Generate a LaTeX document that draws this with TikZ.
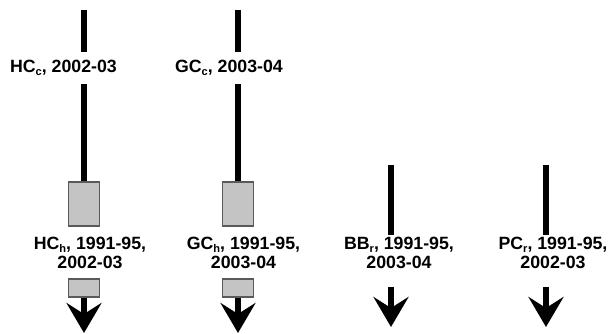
\documentclass[tikz,border=0pt]{standalone}
\usepackage{fontspec}
\setmainfont{Liberation Sans}
\usepackage{tikz}
\usetikzlibrary{positioning,arrows.meta,calc}
\usepackage{xcolor}
\definecolor{pipegray}{RGB}{196,196,196}
\definecolor{edgegray}{RGB}{90,90,90}
\newcommand{\sitesub}[1]{\raisebox{-0.16em}{\fontsize{6.3pt}{6.3pt}\selectfont #1}}

\begin{document}
\begin{tikzpicture}[
  lbl/.style={font=\fontsize{10.1pt}{10.8pt}\selectfont\bfseries,align=center,inner xsep=0pt},
  toplbl/.style={lbl,inner ysep=4.5pt,anchor=base},
  botlbl/.style={lbl,inner ysep=1pt,anchor=north},
  pipe/.style={line width=3.4pt,black},
  flow/.style={pipe,-{Stealth[length=0.6cm,width=0.7cm,inset=0.22cm]}},
  bar/.style={rectangle,draw=edgegray,line width=0.6pt,fill=pipegray,inner sep=0pt,minimum width=0.62cm}
]
\useasboundingbox (0,0) rectangle (12.2,6.68);
% four columns
\coordinate (hctop) at (1.68,6.48);
\coordinate (gctop) at (4.76,6.48);
\coordinate (bbtop) at (7.82,3.38);
\coordinate (pctop) at (10.92,3.38);
\node[toplbl] (hcc) at (1.27,5.22) {HC\sitesub{c}, 2002-03};
\node[toplbl] (gcc) at (4.58,5.22) {GC\sitesub{c}, 2003-04};
\node[bar,minimum height=0.88cm] (hcbox1) at (1.68,2.60) {};
\node[bar,minimum height=0.88cm] (gcbox1) at (4.76,2.60) {};
\node[botlbl] (hch) at (1.80,1.98) {HC\sitesub{h}, 1991-95,\\2002-03};
\node[botlbl] (gch) at (4.87,1.98) {GC\sitesub{h}, 1991-95,\\2003-04};
\node[botlbl] (bbr) at (7.98,1.98) {BB\sitesub{r}, 1991-95,\\2003-04};
\node[botlbl] (pcr) at (11.06,1.98) {PC\sitesub{r}, 1991-95,\\2002-03};
\node[bar,minimum height=0.36cm] (hcbox2) at (1.68,0.92) {};
\node[bar,minimum height=0.36cm] (gcbox2) at (4.76,0.92) {};
\coordinate (hcend) at (1.68,0.02);
\coordinate (gcend) at (4.76,0.02);
\coordinate (bbstart) at (7.82,0.94);
\coordinate (bbend) at (7.82,0.14);
\coordinate (pcstart) at (10.92,0.94);
\coordinate (pcend) at (10.92,0.14);
\draw[pipe] (hctop) -- (hctop |- hcc.north);
\draw[pipe] (hctop |- hcc.south) -- (hcbox1.north);
\draw[pipe] (gctop) -- (gctop |- gcc.north);
\draw[pipe] (gctop |- gcc.south) -- (gcbox1.north);
\draw[pipe] (bbtop) -- (bbtop |- bbr.north);
\draw[pipe] (pctop) -- (pctop |- pcr.north);
\draw[flow] (hcbox2.south) -- (hcend);
\draw[flow] (gcbox2.south) -- (gcend);
\draw[flow] (bbstart) -- (bbend);
\draw[flow] (pcstart) -- (pcend);
\end{tikzpicture}
\end{document}
